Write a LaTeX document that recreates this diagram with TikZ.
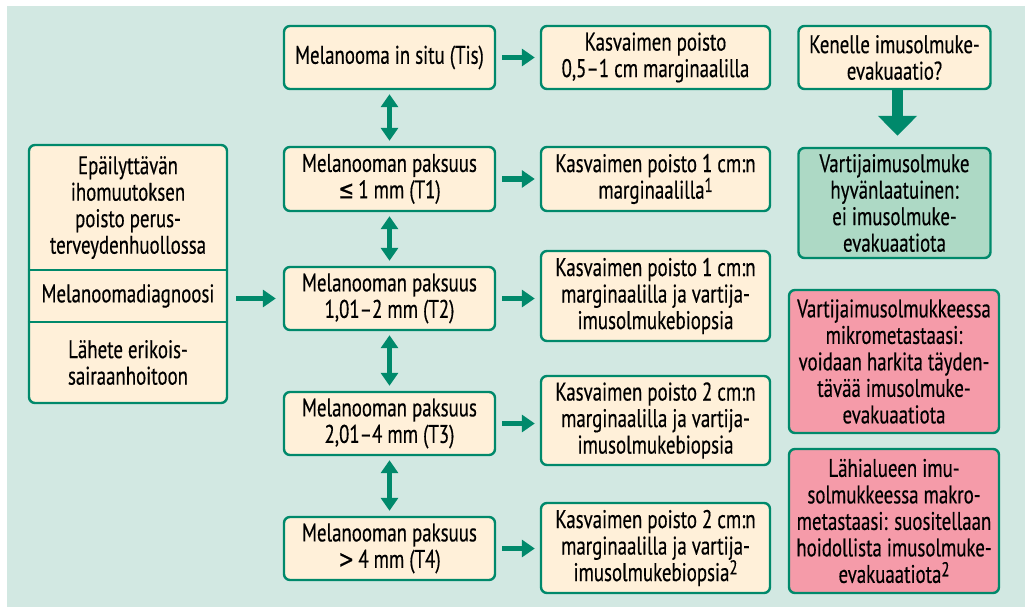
\documentclass[tikz,border=0pt]{standalone}
\usepackage{fontspec}
\setmainfont[FakeStretch=0.74,FakeBold=0.4]{PT Sans}
\newfontfamily\symfont[FakeStretch=0.74,FakeBold=0.4]{DejaVu Sans}
\usetikzlibrary{arrows.meta}
\definecolor{bgc}{HTML}{D2E8E2}
\definecolor{tealc}{HTML}{00896B}
\definecolor{creamc}{HTML}{FFF0D9}
\definecolor{greenc}{HTML}{ADD9C5}
\definecolor{pinkc}{HTML}{F59BA9}
\newcommand{\supnum}[1]{\smash{\raisebox{0.26em}{\fontsize{20}{20}\selectfont #1}}}
\begin{document}
\begin{tikzpicture}[x=1pt,y=-1pt,
  box/.style={draw=tealc, line width=2.4pt, rounded corners=6pt, fill=creamc,
    align=center, inner sep=0pt, font=\fontsize{25.5}{26.5}\selectfont},
  txt/.style={align=center, inner sep=0pt, font=\fontsize{25.5}{26.5}\selectfont},
  harrow/.style={draw=tealc, line width=5.5pt, -{Triangle[length=13pt,width=17pt]}},
  varrow/.style={draw=tealc, line width=5.5pt, {Triangle[length=13pt,width=17pt]}-{Triangle[length=13pt,width=17pt]}, shorten <=4pt, shorten >=5pt},
  bigarrow/.style={draw=tealc, line width=11.5pt, -{Triangle[length=20pt,width=38pt]}}
]
\useasboundingbox (0,0) rectangle (1025,607);
\fill[bgc] (7,6) rectangle (1025,607);

% left column
\node[box, minimum width=198pt, minimum height=258pt] (left) at (128,274) {};
\node[txt] (l1) at (128,207.5) {Epäilyttävän\\ihomuutoksen\\poisto perus-\\terveydenhuollossa};
\node[txt] (l2) at (128,296) {Melanoomadiagnoosi};
\node[txt] (l3) at (128,362.5) {Lähete erikois-\\sairaanhoitoon};
\draw[tealc, line width=2.4pt] (left.west |- 0,270) -- (left.east |- 0,270);
\draw[tealc, line width=2.4pt] (left.west |- 0,322) -- (left.east |- 0,322);

% column 2
\node[box, minimum width=211pt, minimum height=63pt] (m1) at (389.5,57.5) {Melanooma in situ (Tis)};
\node[box, minimum width=211pt, minimum height=64pt] (m2) at (389.5,179) {Melanooman paksuus\\{\symfont ≤}\,1 mm (T1)};
\node[box, minimum width=211pt, minimum height=63pt] (m3) at (389.5,298.5) {Melanooman paksuus\\1,01–2 mm (T2)};
\node[box, minimum width=211pt, minimum height=63pt] (m4) at (389.5,423.5) {Melanooman paksuus\\2,01–4 mm (T3)};
\node[box, minimum width=211pt, minimum height=63pt] (m5) at (389.5,548.5) {Melanooman paksuus\\{\symfont >}\,4 mm (T4)};

% column 3
\node[box, minimum width=229pt, minimum height=63pt] (k1) at (655.5,57.5) {Kasvaimen poisto\\0,5–1 cm marginaalilla};
\node[box, minimum width=229pt, minimum height=64pt] (k2) at (655.5,179) {Kasvaimen poisto 1 cm:n\\marginaalilla\supnum{1}};
\node[box, minimum width=229pt, minimum height=90pt] (k3) at (655.5,296) {Kasvaimen poisto 1 cm:n\\marginaalilla ja vartija-\\imusolmukebiopsia};
\node[box, minimum width=229pt, minimum height=89pt] (k4) at (655.5,420.5) {Kasvaimen poisto 2 cm:n\\marginaalilla ja vartija-\\imusolmukebiopsia};
\node[box, minimum width=229pt, minimum height=90pt] (k5) at (655.5,548) {Kasvaimen poisto 2 cm:n\\marginaalilla ja vartija-\\imusolmukebiopsia\supnum{2}};

% column 4
\node[box, minimum width=192pt, minimum height=63pt] (q) at (894.5,57.5) {Kenelle imusolmuke-\\evakuaatio?};
\node[box, fill=greenc, minimum width=192pt, minimum height=110pt] (g) at (894.5,203) {Vartijaimusolmuke\\hyvänlaatuinen:\\ei imusolmuke-\\evakuaatiota};
\node[box, fill=pinkc, minimum width=210pt, minimum height=143pt] (p1) at (894,361.5) {Vartijaimusolmukkeessa\\mikrometastaasi:\\voidaan harkita täyden-\\tävää imusolmuke-\\evakuaatiota};
\node[box, fill=pinkc, minimum width=210pt, minimum height=144pt] (p2) at (894,521) {Lähialueen imu-\\solmukkeessa makro-\\metastaasi: suositellaan\\hoidollista imusolmuke-\\evakuaatiota\supnum{2}};

% arrows
\draw[harrow, shorten <=8pt, shorten >=7pt] (m3.west -| left.east) -- (m3.west);
\foreach \i in {1,...,5} {
  \draw[harrow, shorten <=6pt, shorten >=5pt] (m\i.east) -- (m\i.east -| k1.west);
}
\draw[varrow] (m1.south) -- (m2.north);
\draw[varrow] (m2.south) -- (m3.north);
\draw[varrow] (m3.south) -- (m4.north);
\draw[varrow] (m4.south) -- (m5.north);
\draw[bigarrow, shorten >=11pt] ([xshift=3pt]q.south) -- ([xshift=3pt]q.south |- g.north);
\end{tikzpicture}
\end{document}
